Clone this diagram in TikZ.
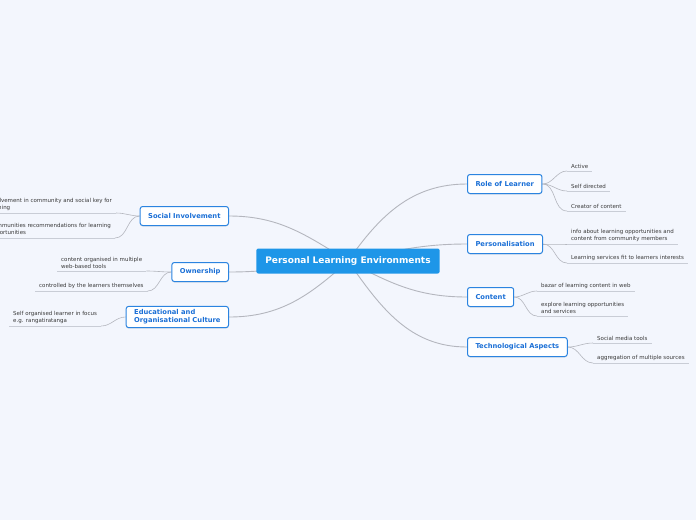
\documentclass[tikz,border=0pt]{standalone}
\usepackage{fontspec}
\setmainfont{DejaVu Sans}
\usetikzlibrary{positioning, backgrounds, shadows}
\definecolor{PageBg}{HTML}{F3F6FD}
\definecolor{RootBlue}{HTML}{1E96E8}
\definecolor{TopicBlue}{HTML}{2B84E0}
\definecolor{TopicText}{HTML}{1A6FD6}
\definecolor{LinkGray}{HTML}{B4B6BE}
\definecolor{LeafText}{HTML}{3A3A3A}
\definecolor{LeafLine}{HTML}{C9CDD6}
\definecolor{White}{HTML}{FFFFFF}
\tikzset{
    rootnode/.style={rectangle, rounded corners=2pt, fill=RootBlue, text=White, font=\bfseries\fontsize{9}{10}\selectfont, minimum height=25pt, inner xsep=9pt},
    topicnode/.style={rectangle, rounded corners=2.5pt, draw=TopicBlue, line width=1pt, fill=White, text=TopicText, align=left, font=\bfseries\fontsize{6.75}{8}\selectfont, minimum height=19pt, inner xsep=8pt, drop shadow={shadow xshift=0pt, shadow yshift=-1pt, opacity=0.18}},
    leafnode/.style={text=LeafText, align=left, font=\fontsize{5.5}{6.8}\selectfont, inner xsep=4pt, inner ysep=2.5pt},
    branch/.style={draw=LinkGray, line width=0.9pt},
    twig/.style={draw=LinkGray, line width=0.6pt},
    underline/.style={draw=LeafLine, line width=0.6pt},
}

\begin{document}
\begin{tikzpicture}[x=1pt, y=-1pt]
                \useasboundingbox (0,0) rectangle (696,520);
                
                % Nodo centrale
                \node[rootnode] (plc) at (348,261) {Personal Learning Environments};
                
                % Rami a destra
                \node[topicnode, anchor=west] (role) at (467,184) {Role of Learner};
                \node[topicnode, anchor=west] (pers) at (467,244) {Personalisation};
                \node[topicnode, anchor=west] (cont) at (467,297) {Content};
                \node[topicnode, anchor=west] (tech) at (467,347) {Technological Aspects};
                
                % Rami a sinistra
                \node[topicnode, anchor=east] (social) at (229,216) {Social Involvement};
                \node[topicnode, anchor=east] (own) at (229,272) {Ownership};
                \node[topicnode, anchor=east] (edu) at (229,317) {Educational and\\Organisational Culture};
                
                % Foglie a destra
                \node[leafnode, anchor=south west] (active) at (567,171) {Active};
                \node[leafnode, anchor=south west] (selfdir) at (567,191) {Self directed};
                \node[leafnode, anchor=south west] (creator) at (567,211) {Creator of content};
                \node[leafnode, anchor=south west] (info) at (567,244) {info about learning opportunities and\\content from community members};
                \node[leafnode, anchor=south west] (services) at (567,263) {Learning services fit to learners interests};
                \node[leafnode, anchor=south west] (bazar) at (537,291) {bazar of learning content in web};
                \node[leafnode, anchor=south west] (explore) at (537,316) {explore learning opportunities\\and services};
                \node[leafnode, anchor=south west] (smtools) at (593,343) {Social media tools};
                \node[leafnode, anchor=south west] (aggr) at (593,363) {aggregation of multiple sources};
                
                % Foglie a sinistra
                \node[leafnode, anchor=south east] (involve) at (116,213) {Involvement in community and social key for\\learning};
                \node[leafnode, anchor=south east] (recomm) at (115,238) {Communities recommendations for learning\\opportunities};
                \node[leafnode, anchor=south west] (multi) at (57,271) {content organised in multiple\\web-based tools};
                \node[leafnode, anchor=south west] (control) at (35,291) {controlled by the learners themselves};
                \node[leafnode, anchor=south west] (selforg) at (9,326) {Self organised learner in focus\\e.g. rangatiratanga};
                
                % Sottolineature
                \foreach \n in {active, selfdir, creator, info, services, bazar, explore, smtools, aggr, involve, recomm, multi, control, selforg}
                    \draw[underline] (\n.south west) -- (\n.south east);
                
                \begin{scope}[on background layer]
                    \fill[PageBg] (0,0) rectangle (696,520);
                    
                    % Collegamenti dal centro
                    \draw[branch] (plc.center) to[out=55, in=180] (role.west);
                    \draw[branch] (plc.center) to[out=12, in=180] (pers.west);
                    \draw[branch] (plc.center) to[out=-28, in=180] (cont.west);
                    \draw[branch] (plc.center) to[out=-55, in=180] (tech.west);
                    \draw[branch] (plc.center) to[out=148, in=0] (social.east);
                    \draw[branch] (plc.center) to[out=185, in=0] (own.east);
                    \draw[branch] (plc.center) to[out=-138, in=0] (edu.east);
                    
                    % Collegamenti alle foglie
                    \foreach \p/\c in {role/active, role/selfdir, role/creator, pers/info, pers/services, cont/bazar, cont/explore, tech/smtools, tech/aggr}
                        \draw[twig] (\p.east) to[out=0, in=180] (\c.south west);
                    \foreach \p/\c in {social/involve, social/recomm, own/multi, own/control, edu/selforg}
                        \draw[twig] (\c.south east) to[out=0, in=180] (\p.west);
                \end{scope}
            \end{tikzpicture}
\end{document}
